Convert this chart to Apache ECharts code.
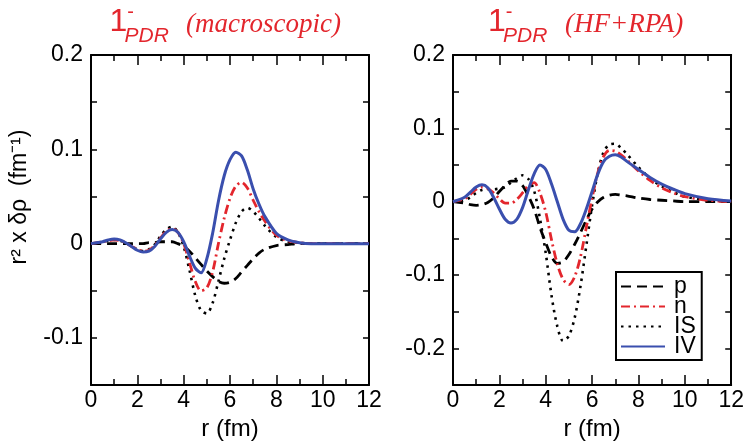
<!DOCTYPE html>
<html>
<head>
<meta charset="utf-8">
<script src="https://cdn.jsdelivr.net/npm/echarts@6/dist/echarts.min.js"></script>
<style>
  body { margin: 0; background: #fff; }
  #chart { width: 747px; height: 446px; }
</style>
</head>
<body>
<div id="chart"></div>
<script>
  // r grid (fm), shared by every curve
  var r = [0, 0.5, 0.75, 1, 1.25, 1.5, 1.75, 2, 2.25, 2.5, 2.75, 3, 3.25, 3.5, 3.75, 4, 4.25, 4.5, 4.75, 5,
    5.25, 5.5, 5.75, 6, 6.25, 6.5, 6.75, 7, 7.25, 7.5, 8, 8.5, 9, 9.5, 10, 11, 12];

  // left panel: macroscopic
  var macroP = [0, 0, 0, 0, 0, 0, 0, 0, 0, 0.001, 0.001, 0.002, 0.002, 0.002, 0, -0.003, -0.008, -0.015, -0.022, -0.029,
    -0.035, -0.04, -0.042, -0.041, -0.037, -0.03, -0.023, -0.016, -0.01, -0.006, -0.002, -0.001, 0, 0, 0, 0, 0];
  var macroN = [0, 0.002, 0.003, 0.004, 0.003, 0.001, -0.003, -0.006, -0.008, -0.007, -0.002, 0.006, 0.013, 0.016, 0.012, 0, -0.02, -0.04, -0.05, -0.047,
    -0.03, 0, 0.027, 0.048, 0.061, 0.065, 0.059, 0.046, 0.034, 0.024, 0.009, 0.003, 0.001, 0, 0, 0, 0];
  var macroIS = [0, 0.002, 0.003, 0.004, 0.003, 0.001, -0.003, -0.006, -0.008, -0.006, -0.001, 0.008, 0.015, 0.018, 0.012, -0.003, -0.028, -0.055, -0.071, -0.074,
    -0.063, -0.04, -0.016, 0.004, 0.022, 0.034, 0.038, 0.034, 0.027, 0.019, 0.007, 0.002, 0.001, 0, 0, 0, 0];
  var macroIV = [0, 0.002, 0.004, 0.005, 0.004, 0.001, -0.003, -0.007, -0.009, -0.008, -0.003, 0.005, 0.012, 0.015, 0.012, 0.002, -0.013, -0.026, -0.031, -0.016,
    0.011, 0.045, 0.072, 0.089, 0.097, 0.093, 0.078, 0.058, 0.042, 0.029, 0.011, 0.004, 0.001, 0, 0, 0, 0];

  // right panel: HF+RPA
  var rpaP = [0, -0.002, -0.004, -0.005, -0.004, -0.001, 0.005, 0.014, 0.022, 0.028, 0.028, 0.022, 0.008, -0.01, -0.035, -0.056, -0.075, -0.084, -0.082, -0.072,
    -0.058, -0.042, -0.025, -0.01, 0, 0.006, 0.009, 0.01, 0.009, 0.008, 0.005, 0.003, 0.002, 0.001, 0, 0, 0];
  var rpaN = [0, 0.004, 0.01, 0.017, 0.02, 0.018, 0.012, 0.004, -0.002, -0.002, 0.003, 0.012, 0.022, 0.026, 0.012, -0.014, -0.052, -0.085, -0.106, -0.113,
    -0.102, -0.075, -0.035, 0.005, 0.04, 0.062, 0.07, 0.069, 0.064, 0.057, 0.042, 0.029, 0.019, 0.012, 0.007, 0.002, 0];
  var rpaIS = [0, 0.002, 0.006, 0.012, 0.016, 0.017, 0.017, 0.018, 0.02, 0.026, 0.032, 0.036, 0.031, 0.015, -0.023, -0.07, -0.128, -0.17, -0.19, -0.183,
    -0.158, -0.115, -0.06, -0.005, 0.04, 0.068, 0.078, 0.079, 0.073, 0.065, 0.047, 0.032, 0.021, 0.013, 0.007, 0.002, 0];
  var rpaIV = [0, 0.006, 0.013, 0.02, 0.023, 0.019, 0.006, -0.01, -0.024, -0.029, -0.024, -0.008, 0.016, 0.038, 0.05, 0.044, 0.024, 0, -0.024, -0.039,
    -0.041, -0.03, -0.01, 0.014, 0.038, 0.055, 0.062, 0.064, 0.061, 0.055, 0.044, 0.033, 0.024, 0.017, 0.011, 0.004, 0.001];

  var curveNames = ['p', 'n', 'IS', 'IV'];
  var titles = ['(macroscopic)', '(HF+RPA)'];

  var sans = "'Liberation Sans', Arial, sans-serif";
  var serif = "'Liberation Serif', 'Times New Roman', serif";
  var red = '#e3262d';
  var blue = '#3a4fae';

  var chart = echarts.init(document.getElementById('chart'));

  function pairs(vals) {
    return r.map(function (x, i) { return [x, vals[i]]; });
  }

  function yLabel(v) {
    var k = Math.round(v * 100);
    if (k % 10 !== 0) return '';
    var s = String(k / 100);
    return s === '-0' ? '0' : s;
  }

  function xAxis(grid, pos) {
    return {
      type: 'value', gridIndex: grid, position: pos, min: 0, max: 12, interval: 2,
      name: pos === 'bottom' ? 'r (fm)' : '', nameLocation: 'middle', nameGap: 29,
      nameTextStyle: { fontFamily: sans, fontSize: 24, color: '#000' },
      axisLine: { show: true, onZero: false, lineStyle: { color: '#000', width: 2 } },
      axisTick: { show: true, inside: true, length: 10, lineStyle: { color: '#000', width: 1.5 } },
      minorTick: { show: true, splitNumber: 2, length: 6, lineStyle: { color: '#000', width: 1.5 } },
      axisLabel: { show: pos === 'bottom', margin: 4, fontFamily: sans, fontSize: 23, color: '#000' },
      splitLine: { show: false }
    };
  }

  function yAxis(grid, pos, min) {
    return {
      type: 'value', gridIndex: grid, position: pos, min: min, max: 0.2, interval: 0.05,
      axisLine: { show: true, onZero: false, lineStyle: { color: '#000', width: 2 } },
      axisTick: { show: true, inside: true, length: 6, lineStyle: { color: '#000', width: 1.5 } },
      axisLabel: { show: pos === 'left', margin: 8, fontFamily: sans, fontSize: 23, color: '#000', formatter: yLabel },
      splitLine: { show: false }
    };
  }

  var styles = {
    p: { color: '#000', width: 2.8, type: [10, 6] },
    n: { color: red, width: 2.8, type: [9, 4, 2, 4] },
    IS: { color: '#000', width: 2.6, type: [2.5, 5] },
    IV: { color: blue, width: 3, type: 'solid' }
  };

  function line(name, vals, panel) {
    return {
      name: name, type: 'line', xAxisIndex: panel * 2, yAxisIndex: panel * 2,
      data: pairs(vals), smooth: 0.3, symbol: 'none', animation: false,
      color: styles[name].color,
      lineStyle: styles[name]
    };
  }

  var titleBits = [];
  [118.5, 497].forEach(function (x1, i) {
    titleBits.push(
      { type: 'text', x: x1, y: 22, style: { text: '1', fill: red, font: '32px ' + sans, textAlign: 'center', textVerticalAlign: 'middle' } },
      { type: 'text', x: x1 + 12, y: 12, style: { text: '-', fill: red, font: '20px ' + sans, textAlign: 'center', textVerticalAlign: 'middle' } },
      { type: 'text', x: x1 + 6, y: 36, style: { text: 'PDR', fill: red, font: 'italic 21px ' + sans, textAlign: 'left', textVerticalAlign: 'middle' } },
      { type: 'text', x: i === 0 ? 186 : 565, y: 25, style: { text: titles[i], fill: red, font: 'italic 27px ' + serif, textAlign: 'left', textVerticalAlign: 'middle' } }
    );
  });
  titleBits.push({
    type: 'text', x: 20, y: 197, rotation: Math.PI / 2,
    style: { text: 'r² x δρ  (fm⁻¹)', fill: '#000', font: '23px ' + sans, textAlign: 'center', textVerticalAlign: 'middle' }
  });

  var option = {
    backgroundColor: '#fff',
    animation: false,
    grid: [
      { left: 91, top: 55, width: 278, height: 332 },
      { left: 453, top: 55, width: 279, height: 332 }
    ],
    xAxis: [xAxis(0, 'bottom'), xAxis(0, 'top'), xAxis(1, 'bottom'), xAxis(1, 'top')],
    yAxis: [yAxis(0, 'left', -0.15), yAxis(0, 'right', -0.15), yAxis(1, 'left', -0.25), yAxis(1, 'right', -0.25)],
    legend: {
      data: curveNames, orient: 'vertical', left: 616, top: 272,
      itemWidth: 44, itemHeight: 20, itemGap: -3, selectedMode: false,
      itemStyle: { opacity: 0 },
      borderColor: '#000', borderWidth: 2, padding: [3, 6, 2, 4],
      textStyle: { fontFamily: sans, fontSize: 23, color: '#000', padding: [0, 0, 0, 4] }
    },
    graphic: titleBits,
    series: [
      line('p', macroP, 0), line('IS', macroIS, 0), line('n', macroN, 0), line('IV', macroIV, 0),
      line('p', rpaP, 1), line('IS', rpaIS, 1), line('n', rpaN, 1), line('IV', rpaIV, 1)
    ]
  };

  chart.setOption(option);
</script>
</body>
</html>
